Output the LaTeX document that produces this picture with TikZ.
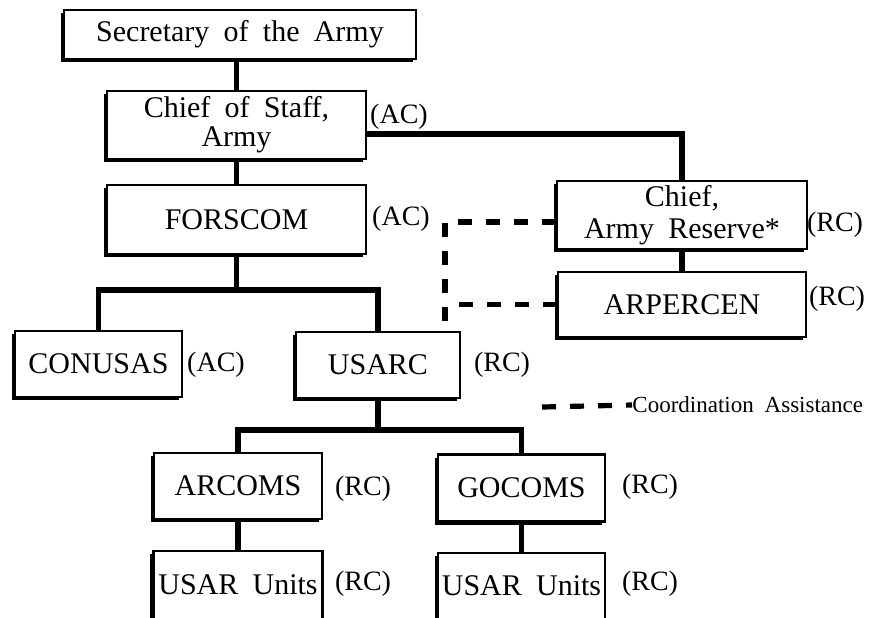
\documentclass[tikz,border=0pt]{standalone}
\usepackage{fontspec}
\setmainfont{Liberation Serif}[WordSpace=1.9]
\usetikzlibrary{shadows}

\begin{document}
\begin{tikzpicture}[x=0.5pt, y=-0.5pt,
    unit/.style={draw, line width=1.2pt, fill=white, align=center, inner sep=2pt,
        font=\fontsize{15}{14.5}\selectfont,
        drop shadow={shadow xshift=-1.6pt, shadow yshift=-1.6pt, fill=black, opacity=1}},
    comp/.style={font=\fontsize{14}{14}\selectfont, yshift=-1pt},
    link/.style={line width=2.9pt},
    coord/.style={line width=2.6pt, dash pattern=on 7pt off 7pt}]
    \useasboundingbox (0,0) rectangle (882,617);

    % Boxes
    \node[unit, minimum width=176pt, minimum height=24.5pt] (sec) at (240,34.5) {Secretary of the Army};
    \node[unit, minimum width=129.5pt, minimum height=34pt] (chief) at (236.5,125) {Chief of Staff,\\Army};
    \node[unit, minimum width=129.5pt, minimum height=34.5pt] (forscom) at (236.5,219.5) {FORSCOM};
    \node[unit, minimum width=125pt, minimum height=32pt] (carmy) at (682,215) {Chief,\\[1.5pt]Army Reserve*};
    \node[unit, minimum width=124pt, minimum height=32.5pt] (arpercen) at (682,304.5) {ARPERCEN};
    \node[unit, minimum width=83.5pt, minimum height=33pt] (conusas) at (98.5,364) {CONUSAS};
    \node[unit, minimum width=82pt, minimum height=33pt] (usarc) at (378,365) {USARC};
    \node[unit, minimum width=84pt, minimum height=33pt] (arcoms) at (238,486) {ARCOMS};
    \node[unit, minimum width=83.5pt, minimum height=33.5pt] (gocoms) at (521.5,488) {GOCOMS};
    \node[unit, minimum width=84.5pt, minimum height=34pt] (unitsa) at (238,585) {USAR Units};
    \node[unit, minimum width=83.5pt, minimum height=33pt] (unitsb) at (521.5,586) {USAR Units};

    % Components
    \node[comp] (acchief) at (399,115) {(AC)};
    \node[comp] (acfors) at (401,217) {(AC)};
    \node[comp] (rccarmy) at (835,223) {(RC)};
    \node[comp] (rcarper) at (837,297) {(RC)};
    \node[comp] (acconus) at (216,363) {(AC)};
    \node[comp] (rcusarc) at (502,363) {(RC)};
    \node[comp] (rcarcoms) at (363,487) {(RC)};
    \node[comp] (rcgocoms) at (650,485) {(RC)};
    \node[comp] (rcunitsa) at (363,582) {(RC)};
    \node[comp] (rcunitsb) at (650,582) {(RC)};

    % Legend
    \coordinate (legend) at (542,407);
    \node[anchor=west, inner sep=0pt, font=\fontsize{11.5}{12}\selectfont]
        (legtext) at (632,405) {Coordination Assistance};

    % Command lines
    \coordinate (fbar) at (236.5,290);
    \coordinate (ubar) at (378,430);
    \draw[link] (chief.north) -- (chief.north |- sec.south);
    \draw[link] (chief) -- (forscom);
    \draw[link] (chief.-4.4) -| (carmy.north);
    \draw[link] (arpercen.north) -- (arpercen.north |- carmy.south);
    \draw[link] (forscom.south) -- (fbar);
    \draw[link] (conusas.north) |- (fbar) -| (usarc.north);
    \draw[link] (usarc.south) -- (ubar);
    \draw[link] (arcoms.north) |- (ubar) -| (gocoms.north);
    \draw[link] (arcoms) -- (unitsa);
    \draw[link] (gocoms) -- (unitsb);

    % Coordination lines
    \coordinate (dtop) at (445,222);
    \draw[coord] (carmy.west |- dtop) -- (dtop) -- (dtop |- usarc.north);
    \draw[coord] (arpercen.west) -- (arpercen.west -| dtop);
    \draw[coord] (legend) -- (legtext.west);
\end{tikzpicture}
\end{document}
